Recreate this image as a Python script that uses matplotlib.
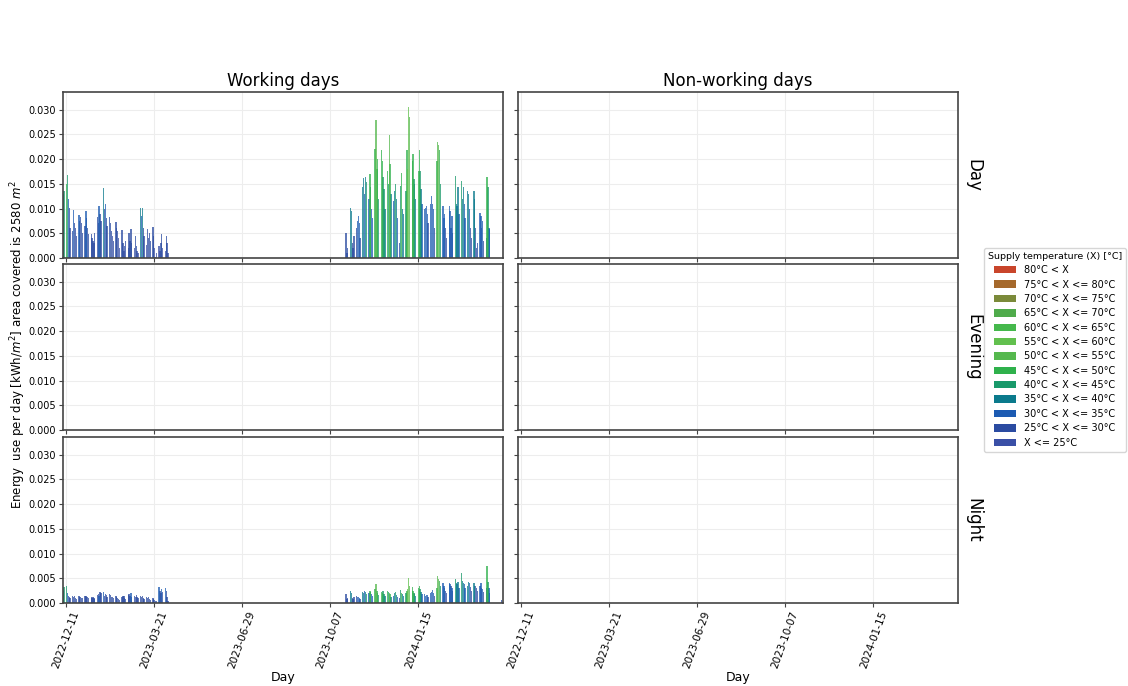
import numpy as np
import pandas as pd
import matplotlib
matplotlib.use("Agg")
import matplotlib.pyplot as plt
import matplotlib.dates as mdates
from matplotlib.patches import Patch

# temperature classes, top of legend first
classes = ['80°C < X', '75°C < X <= 80°C', '70°C < X <= 75°C', '65°C < X <= 70°C',
           '60°C < X <= 65°C', '55°C < X <= 60°C', '50°C < X <= 55°C', '45°C < X <= 50°C',
           '40°C < X <= 45°C', '35°C < X <= 40°C', '30°C < X <= 35°C', '25°C < X <= 30°C',
           'X <= 25°C']
class_colors = ['#c9452b', '#a5692c', '#7b8a3a', '#4fab4b', '#45b84c', '#62c04e', '#55b84e',
                '#2fb14c', '#18996a', '#0b7a8c', '#1c5bb2', '#2b4ba1', '#3a4fa6']
# code letter -> class
code_class = {'a': 'X <= 25°C', 'b': '25°C < X <= 30°C', 'c': '30°C < X <= 35°C',
              'd': '35°C < X <= 40°C', 'e': '40°C < X <= 45°C', 'f': '45°C < X <= 50°C',
              'g': '50°C < X <= 55°C', 'h': '55°C < X <= 60°C'}

# working days, winter 2022/23 (2022-12-08 .. 2023-04-06)
days_1 = pd.bdate_range('2022-12-08', '2023-04-06')
day_use_1 = [0.0130, 0.0136,
             0.0150, 0.0167, 0.0120, 0.0102, 0.0060,
             0.0054, 0.0097, 0.0070, 0.0060, 0.0045,
             0.0088, 0.0075, 0.0083, 0.0070, 0.0050,
             0.0065, 0.0095, 0.0080, 0.0060, 0.0048,
             0.0048, 0.0040, 0.0035, 0.0030, 0.0050,
             0.0082, 0.0070, 0.0105, 0.0090, 0.0075,
             0.0141, 0.0100, 0.0109, 0.0080, 0.0065,
             0.0083, 0.0070, 0.0055, 0.0045, 0.0035,
             0.0073, 0.0060, 0.0054, 0.0040, 0.0020,
             0.0056, 0.0030, 0.0015, 0.0025, 0.0034,
             0.0020, 0.0050, 0.0035, 0.0059, 0.0030,
             0.0020, 0.0044, 0.0025, 0.0015, 0.0010,
             0.0101, 0.0085, 0.0102, 0.0060, 0.0045,
             0.0027, 0.0058, 0.0040, 0.0051, 0.0035,
             0.0063, 0.0045, 0.0020, 0.0003, 0.0010,
             0.0024, 0.0015, 0.0030, 0.0048, 0.0020,
             0.0015, 0.0044, 0.0030, 0.0010]
day_code_1 = ('de' 'fecbb' 'bcbbb' 'cbbbb' 'bcbbb' 'bbbab' 'bbcbb' 'dbcbb' 'bbbab'
              'bbbaa' 'bbaab' 'abbbb' 'abbaa' 'dcdbb' 'abbbb' 'bbaaa' 'aabba' 'abba')
night_use_1 = [0.0025, 0.0033,
               0.0034, 0.0020, 0.0015, 0.0012, 0.0010,
               0.0015, 0.0012, 0.0014, 0.0010, 0.0008,
               0.0015, 0.0013, 0.0012, 0.0011, 0.0010,
               0.0014, 0.0015, 0.0013, 0.0012, 0.0010,
               0.0012, 0.0010, 0.0013, 0.0011, 0.0009,
               0.0016, 0.0018, 0.0015, 0.0023, 0.0020,
               0.0022, 0.0014, 0.0018, 0.0016, 0.0012,
               0.0018, 0.0016, 0.0013, 0.0012, 0.0010,
               0.0014, 0.0012, 0.0010, 0.0008, 0.0006,
               0.0012, 0.0015, 0.0014, 0.0011, 0.0009,
               0.0016, 0.0018, 0.0015, 0.0020, 0.0012,
               0.0014, 0.0013, 0.0016, 0.0012, 0.0010,
               0.0015, 0.0012, 0.0014, 0.0010, 0.0008,
               0.0013, 0.0011, 0.0012, 0.0009, 0.0007,
               0.0010, 0.0008, 0.0006, 0.0004, 0.0005,
               0.0033, 0.0025, 0.0020, 0.0028, 0.0022,
               0.0030, 0.0024, 0.0012, 0.0005]
night_code_1 = ('de' 'ecbbb' 'bbbbb' 'bbbbb' 'bbbbb' 'bbbbb' 'bbcbb' 'cbbbb' 'bbbbb'
                'bbbbb' 'bbbbb' 'bbbcb' 'bbbbb' 'bbbbb' 'bbbbb' 'bbbbb' 'cbbcb' 'cbbb')

# working days, winter 2023/24 (2023-10-25 .. 2024-04-05)
days_2 = pd.bdate_range('2023-10-25', '2024-04-05')
day_use_2 = [0.0051, 0.0010, 0.0020,
             0.0102, 0.0095, 0.0030, 0.0020, 0.0045,
             0.0060, 0.0075, 0.0085, 0.0070, 0.0040,
             0.0143, 0.0162, 0.0130, 0.0163, 0.0153,
             0.0120, 0.0170, 0.0143, 0.0100, 0.0080,
             0.0221, 0.0279, 0.0180, 0.0200, 0.0120,
             0.0218, 0.0197, 0.0163, 0.0140, 0.0100,
             0.0177, 0.0150, 0.0248, 0.0190, 0.0130,
             0.0116, 0.0136, 0.0150, 0.0120, 0.0080,
             0.0030, 0.0146, 0.0173, 0.0100, 0.0090,
             0.0136, 0.0218, 0.0180, 0.0305, 0.0286,
             0.0197, 0.0210, 0.0160, 0.0150, 0.0120,
             0.0177, 0.0218, 0.0177, 0.0140, 0.0110,
             0.0099, 0.0102, 0.0105, 0.0090, 0.0070,
             0.0110, 0.0126, 0.0110, 0.0100, 0.0060,
             0.0197, 0.0235, 0.0228, 0.0218, 0.0150,
             0.0105, 0.0080, 0.0090, 0.0060, 0.0040,
             0.0105, 0.0095, 0.0060, 0.0085, 0.0050,
             0.0165, 0.0110, 0.0105, 0.0143, 0.0090,
             0.0155, 0.0120, 0.0143, 0.0110, 0.0080,
             0.0136, 0.0130, 0.0100, 0.0060, 0.0040,
             0.0136, 0.0120, 0.0060, 0.0020, 0.0030,
             0.0092, 0.0085, 0.0060, 0.0075, 0.0035,
             0.0040, 0.0163, 0.0143, 0.0060, 0.0058]
day_code_2 = ('bbb' 'ddbbb' 'bcccb' 'ddcde' 'cfecc' 'fgffe' 'ffeed' 'fegfd' 'cdedc'
              'befdd' 'efhhg' 'ffeed' 'ffedc' 'ccccb' 'ccccb' 'fggfe' 'cccbb' 'ccbcb'
              'edcdc' 'eddcc' 'ddcbb' 'ddbbb' 'ccbcb' 'bfecc')
night_use_2 = [0.0018, 0.0008, 0.0010,
               0.0025, 0.0020, 0.0010, 0.0008, 0.0012,
               0.0015, 0.0012, 0.0013, 0.0010, 0.0008,
               0.0023, 0.0020, 0.0025, 0.0022, 0.0018,
               0.0020, 0.0024, 0.0022, 0.0018, 0.0014,
               0.0028, 0.0038, 0.0025, 0.0020, 0.0016,
               0.0022, 0.0020, 0.0024, 0.0018, 0.0014,
               0.0024, 0.0022, 0.0020, 0.0018, 0.0012,
               0.0015, 0.0020, 0.0022, 0.0016, 0.0012,
               0.0010, 0.0026, 0.0020, 0.0018, 0.0014,
               0.0020, 0.0025, 0.0028, 0.0051, 0.0035,
               0.0032, 0.0025, 0.0020, 0.0018, 0.0015,
               0.0030, 0.0035, 0.0028, 0.0022, 0.0018,
               0.0018, 0.0015, 0.0017, 0.0016, 0.0012,
               0.0020, 0.0023, 0.0026, 0.0020, 0.0015,
               0.0030, 0.0054, 0.0049, 0.0044, 0.0035,
               0.0040, 0.0034, 0.0030, 0.0025, 0.0020,
               0.0040, 0.0038, 0.0035, 0.0030, 0.0025,
               0.0049, 0.0040, 0.0038, 0.0042, 0.0030,
               0.0061, 0.0045, 0.0040, 0.0038, 0.0030,
               0.0035, 0.0042, 0.0040, 0.0032, 0.0025,
               0.0040, 0.0035, 0.0034, 0.0030, 0.0025,
               0.0035, 0.0040, 0.0030, 0.0028, 0.0022,
               0.0030, 0.0074, 0.0042, 0.0030, 0.0020]
night_code_2 = day_code_2

# single late night value
late_days = pd.to_datetime(['2024-04-18'])
late_night_use = [0.0007]
late_night_code = 'b'

xticks = pd.to_datetime(['2022-12-11', '2023-03-21', '2023-06-29', '2023-10-07', '2024-01-15'])
xlim = (pd.Timestamp('2022-12-08'), pd.Timestamp('2024-04-20'))

fig = plt.figure(figsize=(11.28, 6.86), dpi=100)
col_x = [63 / 1128, 518 / 1128]
col_w = 440 / 1128
row_top = [92, 264, 437]
row_h = 166
axes = []
for r in range(3):
    row = []
    for c in range(2):
        ax = fig.add_axes([col_x[c], 1 - (row_top[r] + row_h) / 686, col_w, row_h / 686])
        row.append(ax)
    axes.append(row)


def draw_bars(ax, dates, values, codes):
    x = mdates.date2num(pd.DatetimeIndex(dates).to_pydatetime())
    values = np.asarray(values)
    codes = np.array(list(codes))
    for k, name in code_class.items():
        m = codes == k
        if m.any():
            color = class_colors[classes.index(name)]
            ax.bar(x[m], values[m], width=1.5, color=color, alpha=0.75, linewidth=0)


draw_bars(axes[0][0], days_1, day_use_1, day_code_1)
draw_bars(axes[0][0], days_2, day_use_2, day_code_2)
draw_bars(axes[2][0], days_1, night_use_1, night_code_1)
draw_bars(axes[2][0], days_2, night_use_2, night_code_2)
draw_bars(axes[2][0], late_days, late_night_use, late_night_code)

ytk = np.arange(0, 0.0301, 0.005)
row_names = ['Day', 'Evening', 'Night']
for r in range(3):
    for c in range(2):
        ax = axes[r][c]
        ax.set_xlim(mdates.date2num(xlim[0]), mdates.date2num(xlim[1]))
        ax.set_ylim(0, 0.0336)
        ax.set_yticks(ytk)
        ax.set_xticks(mdates.date2num(xticks.to_pydatetime()))
        ax.grid(True, color='#ededed', linewidth=0.8)
        ax.set_axisbelow(True)
        for s in ax.spines.values():
            s.set_color('#444444')
            s.set_linewidth(1.2)
        ax.tick_params(labelsize=7, length=3, width=0.8, color='#444444', pad=2)
        if c == 0:
            ax.set_yticklabels(['%.3f' % v for v in ytk])
        else:
            ax.set_yticklabels([])
        if r == 2:
            ax.set_xticklabels([d.strftime('%Y-%m-%d') for d in xticks], rotation=70,
                               ha='center', fontsize=7.5)
            ax.set_xlabel('Day', fontsize=9, labelpad=1)
        else:
            ax.set_xticklabels([])
    axes[r][1].text(1.015, 0.5, row_names[r], transform=axes[r][1].transAxes,
                    rotation=270, va='center', ha='left', fontsize=12)

axes[0][0].set_title('Working days', fontsize=12, pad=4)
axes[0][1].set_title('Non-working days', fontsize=12, pad=4)
fig.text(18 / 1128, 1 - 345 / 686,
         'Energy  use per day [kWh/$m^2$] area covered is 2580 $m^2$',
         rotation=90, va='center', ha='center', fontsize=8.5)

handles = [Patch(facecolor=col, edgecolor='none') for col in class_colors]
fig.legend(handles, classes, title='Supply temperature (X) [°C]', loc='upper left',
           bbox_to_anchor=(979 / 1128, 1 - 243 / 686), fontsize=7, title_fontsize=6.8,
           handlelength=2.3, handleheight=0.8, labelspacing=0.45, borderpad=0.4,
           frameon=True, edgecolor='#cccccc', fancybox=True)

fig.savefig('out.png', dpi=100)
